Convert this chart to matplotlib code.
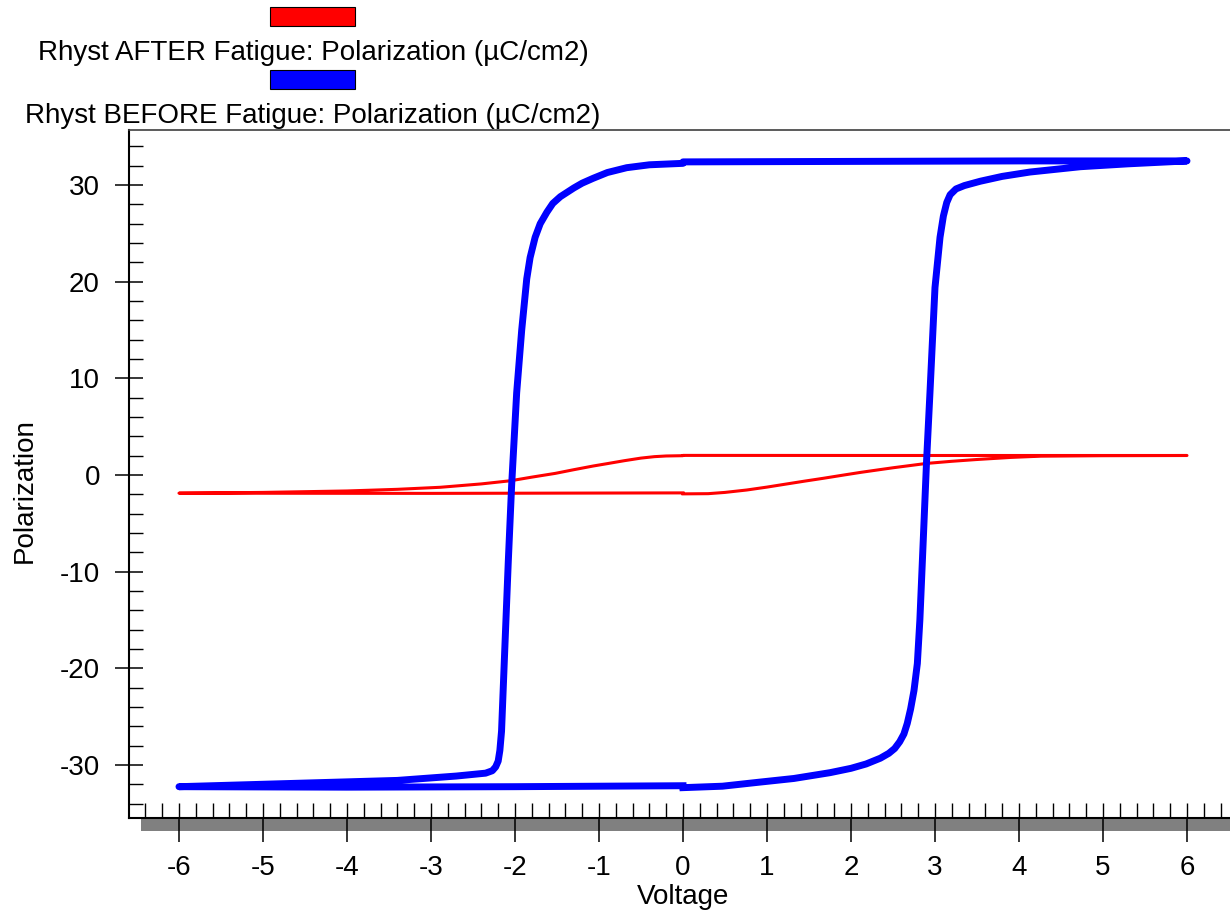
import matplotlib
matplotlib.use("Agg")
import matplotlib.pyplot as plt
from matplotlib.patches import Rectangle
from matplotlib.ticker import MultipleLocator

# ---- data ----
# Before fatigue: sweep 0 -> +6 -> 0 -> -6 -> 0
before_v = [0.0, 0.47, 0.89, 1.32, 1.75, 2.0, 2.18, 2.35, 2.45, 2.52, 2.58, 2.63, 2.67, 2.71, 2.75,
            2.79, 2.82, 2.86, 2.90, 2.94, 3.00, 3.06, 3.10, 3.14, 3.18, 3.25, 3.35, 3.54, 3.80,
            4.13, 4.73, 5.30, 6.0,
            4.0, 2.0, 0.0,
            0.0, -0.40, -0.67, -0.90, -1.07, -1.20, -1.30, -1.46, -1.55, -1.62, -1.70, -1.76,
            -1.82, -1.86, -1.92, -1.98, -2.04, -2.08, -2.12, -2.16, -2.18, -2.20, -2.23, -2.27,
            -2.35, -2.70, -3.40, -4.80, -6.0,
            -4.0, -2.0, 0.0]
before_p = [-32.35, -32.2, -31.8, -31.4, -30.8, -30.35, -29.9, -29.3, -28.8, -28.3, -27.6, -26.8,
            -25.7, -24.2, -22.3, -19.5, -15.0, -6.8, 1.5, 8.5, 19.4, 24.6, 26.8, 28.2, 29.0,
            29.6, 29.95, 30.4, 30.9, 31.35, 31.9, 32.2, 32.5,
            32.5, 32.45, 32.4,
            32.25, 32.1, 31.8, 31.3, 30.7, 30.2, 29.7, 28.8, 28.1, 27.2, 26.0, 24.6,
            22.5, 20.3, 15.0, 8.5, -1.1, -9.0, -17.7, -26.5, -28.5, -29.6, -30.2, -30.6,
            -30.85, -31.15, -31.6, -31.95, -32.25,
            -32.3, -32.25, -32.15]

# After fatigue
after_v = [0.0, 0.30, 0.50, 0.76, 1.00, 1.21, 1.45, 1.67, 1.90, 2.12, 2.50, 2.90, 3.20, 3.49,
           3.90, 4.26, 5.0, 6.0,
           3.0, 0.0,
           0.0, -0.20, -0.34, -0.50, -0.70, -0.90, -1.07, -1.30, -1.52, -1.80, -2.05, -2.40,
           -2.89, -3.40, -4.0, -5.0, -6.0,
           -3.0, 0.0]
after_p = [-1.95, -1.93, -1.80, -1.55, -1.25, -0.96, -0.63, -0.34, -0.02, 0.28, 0.75, 1.20, 1.42,
           1.60, 1.82, 1.95, 2.0, 2.02,
           2.02, 2.03,
           2.0, 1.97, 1.90, 1.75, 1.48, 1.18, 0.93, 0.55, 0.17, -0.22, -0.59, -0.92,
           -1.27, -1.48, -1.65, -1.80, -1.88,
           -1.90, -1.85]

x_major_ticks = [-6, -5, -4, -3, -2, -1, 0, 1, 2, 3, 4, 5, 6]
y_major_ticks = [-30, -20, -10, 0, 10, 20, 30]
legend_labels = ["Rhyst AFTER Fatigue: Polarization (\u00b5C/cm2)",
                 "Rhyst BEFORE Fatigue: Polarization (\u00b5C/cm2)"]
legend_colors = ["#FF0000", "#0000FF"]

# ---- figure ----
plt.rcParams['font.family'] = ['Liberation Sans', 'DejaVu Sans']
plt.rcParams['axes.unicode_minus'] = False

W, H = 1230, 915
fig = plt.figure(figsize=(W / 100, H / 100), dpi=100)
ax = fig.add_axes([129 / W, 1 - 818 / H, (W - 129) / W, (818 - 130) / H])

ax.plot(after_v, after_p, color=legend_colors[0], lw=2.2, solid_joinstyle='round')
ax.plot(before_v, before_p, color=legend_colors[1], lw=5, solid_joinstyle='round')

ax.set_xlim(-6.595, 6.512)
ax.set_ylim(-35.49, 35.70)

ax.set_xticks(x_major_ticks)
ax.set_xticklabels([str(t) for t in x_major_ticks])
ax.set_yticks(y_major_ticks)
ax.set_yticklabels([str(t) for t in y_major_ticks])
ax.xaxis.set_minor_locator(MultipleLocator(0.2))
ax.yaxis.set_minor_locator(MultipleLocator(2))
ax.xaxis.remove_overlapping_locs = False

px = 0.72  # points per pixel at 100 dpi
ax.tick_params(axis='x', which='major', direction='out', length=24 * px, width=1.1,
               pad=13 * px, labelsize=20, colors='black')
ax.tick_params(axis='x', which='minor', direction='in', length=15 * px, width=1.0)
ax.tick_params(axis='y', which='major', direction='inout', length=28 * px, width=1.1,
               pad=15 * px, labelsize=20)
ax.tick_params(axis='y', which='minor', direction='in', length=14 * px, width=1.0)

ax.spines['right'].set_visible(False)
ax.spines['left'].set_linewidth(1.5)
ax.spines['bottom'].set_linewidth(1.5)
ax.spines['top'].set_linewidth(1.2)
ax.spines['top'].set_color('#404040')

# 3D-like grey shadow bar beneath x axis
bar = Rectangle((141 / W, 1 - 831 / H), (W - 141) / W, 13 / H, transform=fig.transFigure,
                facecolor='#808080', edgecolor='none', zorder=-1)
fig.add_artist(bar)

# axis titles
fig.text(683 / W, 1 - 897 / H, "Voltage", ha='center', va='center', fontsize=20)
fig.text(25 / W, 1 - 491 / H, "Polarization", ha='center', va='center', rotation=90, fontsize=20)

# legend (custom, as in the reference)
rect_tops = [7, 70]
text_baselines = [60, 123]
for lab, col, rt, tb in zip(legend_labels, legend_colors, rect_tops, text_baselines):
    r = Rectangle((270 / W, 1 - (rt + 19) / H), 85 / W, 19 / H, transform=fig.transFigure,
                  facecolor=col, edgecolor='black', lw=0.8)
    fig.add_artist(r)
    fig.text(313 / W, 1 - tb / H, lab, ha='center', va='baseline', fontsize=20)

fig.savefig("out.png", dpi=100)
